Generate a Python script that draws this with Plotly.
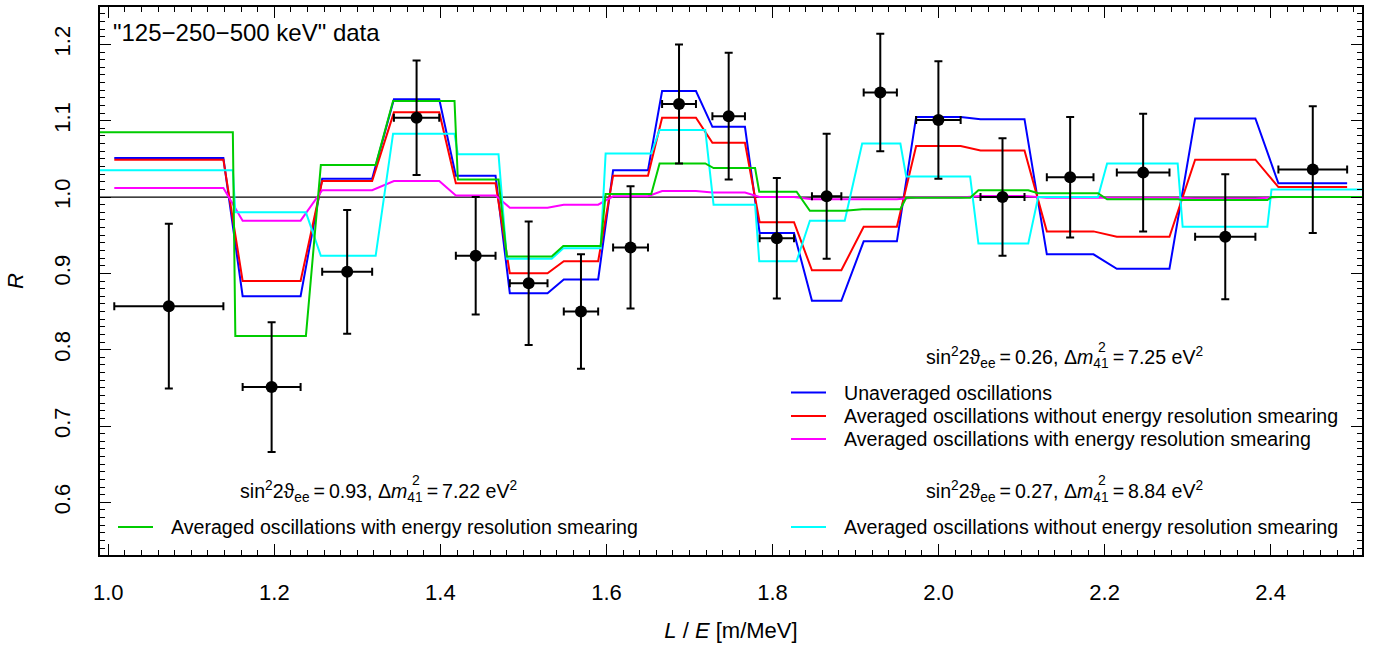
import plotly.graph_objects as go

# ---- measured ratio R in L/E bins ----
le_center = [1.0729, 1.1967, 1.2877, 1.3713, 1.4425, 1.5063, 1.5693, 1.6290, 1.6874, 1.7472,
             1.8052, 1.8652, 1.9298, 1.9998, 2.0770, 2.1585, 2.2464, 2.3453, 2.4507]
le_halfwidth = [0.0657, 0.0349, 0.0301, 0.0273, 0.0239, 0.0227, 0.0207, 0.0210, 0.0204, 0.0196,
                0.0207, 0.0177, 0.0200, 0.0268, 0.0265, 0.0281, 0.0317, 0.0363, 0.0414]
ratio = [0.857, 0.751, 0.902, 1.104, 0.923, 0.887, 0.850, 0.934, 1.122, 1.106,
         0.946, 1.001, 1.137, 1.101, 1.000, 1.026, 1.032, 0.948, 1.036]
ratio_err = [0.108, 0.085, 0.081, 0.075, 0.077, 0.081, 0.075, 0.080, 0.078, 0.083,
             0.079, 0.082, 0.077, 0.077, 0.077, 0.079, 0.077, 0.082, 0.083]

# ---- fit sin^2 2theta = 0.26, dm^2 = 7.25 eV^2 (values per L/E bin) ----
unaveraged = [1.051, 0.870, 1.024, 1.128, 1.028, 0.874, 0.892, 1.035, 1.139, 1.092,
              0.953, 0.864, 0.942, 1.105, 1.102, 0.925, 0.906, 1.103, 1.018]
avg_no_smear = [1.049, 0.890, 1.021, 1.111, 1.018, 0.900, 0.916, 1.028, 1.104, 1.071,
                0.967, 0.904, 0.961, 1.067, 1.061, 0.955, 0.948, 1.049, 1.013]
avg_smear = [1.012, 0.969, 1.009, 1.021, 1.002, 0.986, 0.990, 1.001, 1.008, 1.006,
             1.000, 0.997, 0.997, 0.9995, 1.0013, 0.999, 0.999, 0.998, 1.000]

# ---- curves evaluated on the smeared-energy grid ----
grid_lo = [0.98, 1.153, 1.256, 1.343, 1.421, 1.480, 1.548, 1.599, 1.664, 1.729,
           1.784, 1.845, 1.908, 1.961, 2.048, 2.120, 2.203, 2.294, 2.401]
grid_hi = [1.150, 1.238, 1.322, 1.417, 1.470, 1.534, 1.593, 1.654, 1.719, 1.779,
           1.829, 1.887, 1.954, 2.038, 2.108, 2.192, 2.288, 2.396, 2.52]
# sin^2 2theta = 0.27, dm^2 = 8.84 eV^2, averaged without smearing
fit_b_no_smear = [1.035, 0.980, 0.923, 1.083, 1.056, 0.919, 0.933, 1.057, 1.088, 0.990,
                  0.916, 0.969, 1.070, 1.027, 0.939, 1.000, 1.044, 0.961, 1.010]
# sin^2 2theta = 0.93, dm^2 = 7.22 eV^2, averaged with smearing
fit_c_smear = [1.085, 0.818, 1.042, 1.126, 1.023, 0.922, 0.936, 1.004, 1.044, 1.038,
               1.007, 0.982, 0.984, 0.999, 1.009, 1.005, 0.997, 0.996, 1.000]

BLUE, RED, MAGENTA, CYAN, GREEN = "#0000ff", "#ff0000", "#ff00ff", "#00ffff", "#00cc00"
LBL_UNAV = "Unaveraged oscillations"
LBL_NOSMEAR = "Averaged oscillations without energy resolution smearing"
LBL_SMEAR = "Averaged oscillations with energy resolution smearing"


def steps(lo, hi, vals):
    xs, ys = [], []
    for a, b, v in zip(lo, hi, vals):
        xs += [a, b]
        ys += [v, v]
    return xs, ys


bin_lo = [c - h for c, h in zip(le_center, le_halfwidth)]
bin_hi = [c + h for c, h in zip(le_center, le_halfwidth)]

FONT = "Liberation Sans, Arial, Helvetica, sans-serif"
fig = go.Figure()

# reference level R = 1
fig.add_trace(go.Scatter(x=[0.98, 2.52], y=[1.0, 1.0], mode="lines",
                         line=dict(color="black", width=1.2), showlegend=False,
                         hoverinfo="skip"))

curves = [
    (bin_lo, bin_hi, unaveraged, BLUE, LBL_UNAV),
    (bin_lo, bin_hi, avg_no_smear, RED, LBL_NOSMEAR),
    (bin_lo, bin_hi, avg_smear, MAGENTA, LBL_SMEAR),
    (grid_lo, grid_hi, fit_b_no_smear, CYAN, LBL_NOSMEAR),
    (grid_lo, grid_hi, fit_c_smear, GREEN, LBL_SMEAR),
]
for lo, hi, vals, col, name in curves:
    xs, ys = steps(lo, hi, vals)
    fig.add_trace(go.Scatter(x=xs, y=ys, mode="lines", name=name, showlegend=False,
                             line=dict(color=col, width=2)))

# data points
fig.add_trace(go.Scatter(
    x=le_center, y=ratio, mode="markers", showlegend=False,
    marker=dict(color="black", size=12),
    error_x=dict(type="data", array=le_halfwidth, color="black", thickness=2, width=4),
    error_y=dict(type="data", array=ratio_err, color="black", thickness=2, width=4),
))

# ---- text and key blocks (paper coordinates) ----
W_PLOT, H_PLOT, L_M, T_M = 1262.0, 550.0, 100.0, 5.0


def px(xp):
    return (xp - L_M) / W_PLOT


def py(yp):
    return 1 - (yp - T_M) / H_PLOT


def text(x, y, s, size=19.6, xanchor="left", yanchor="middle"):
    fig.add_annotation(x=px(x), y=py(y), xref="paper", yref="paper", text=s,
                       xanchor=xanchor, yanchor=yanchor, showarrow=False,
                       font=dict(size=size, color="black", family=FONT))


text(111, 31, "\"125\u2212250\u2212500 keV\" data", size=24)


def fit_header(x41, y, s2t, dm):
    # left part ends with the "41" index; the squared mark sits above it
    text(x41, y, "sin<sup>2</sup>2\u03d1<sub>ee</sub>\u2009=\u20090.%s, \u0394<i>m</i><sub>41</sub>" % s2t,
         xanchor="right")
    text(x41 - 15, y - 11, "2", size=14)
    text(x41 - 2, y, "\u200a=\u2009%s eV<sup>2</sup><sub>\u00a0</sub>" % dm)


def key(x0, y, col, label):
    fig.add_shape(type="line", xref="paper", yref="paper", x0=px(x0), x1=px(x0 + 35),
                  y0=py(y), y1=py(y), line=dict(color=col, width=2))
    text(x0 + 51, y, label)


fit_header(1111, 357, "26", "7.25")
key(791, 392, BLUE, LBL_UNAV)
key(791, 415.5, RED, LBL_NOSMEAR)
key(791, 438.5, MAGENTA, LBL_SMEAR)

fit_header(1111, 491, "27", "8.84")
key(791, 527, CYAN, LBL_NOSMEAR)

fit_header(425, 491, "93", "7.22")
key(118, 527, GREEN, LBL_SMEAR)

fig.update_layout(
    width=1385, height=650,
    margin=dict(l=100, r=23, t=5, b=95),
    paper_bgcolor="white", plot_bgcolor="white",
    font=dict(family=FONT, color="black"),
    showlegend=False,
    xaxis=dict(range=[0.99, 2.51], tick0=1.0, dtick=0.2, tickformat=".1f",
               ticks="inside", ticklen=11, tickwidth=1, tickcolor="black",
               minor=dict(dtick=0.02, ticks="inside", ticklen=5, tickcolor="black"),
               showline=True, linecolor="black", linewidth=1.5, mirror="ticks",
               showgrid=False, zeroline=False,
               tickfont=dict(size=22, family=FONT), ticklabelstandoff=17,
               title=dict(text="<i>L</i> / <i>E</i> [m/MeV]", font=dict(size=22, family=FONT),
                          standoff=18)),
    yaxis=dict(range=[0.531, 1.249], tick0=0.6, dtick=0.1, tickformat=".1f",
               ticks="inside", ticklen=11, tickwidth=1, tickcolor="black",
               minor=dict(dtick=0.01, ticks="inside", ticklen=5, tickcolor="black"),
               showline=True, linecolor="black", linewidth=1.5, mirror="ticks",
               showgrid=False, zeroline=False, tickangle=-90,
               tickfont=dict(size=22, family=FONT), ticklabelstandoff=19,
               title=dict(text="<i>R</i>", font=dict(size=22, family=FONT), standoff=21)),
)

fig.write_html("out.html")
